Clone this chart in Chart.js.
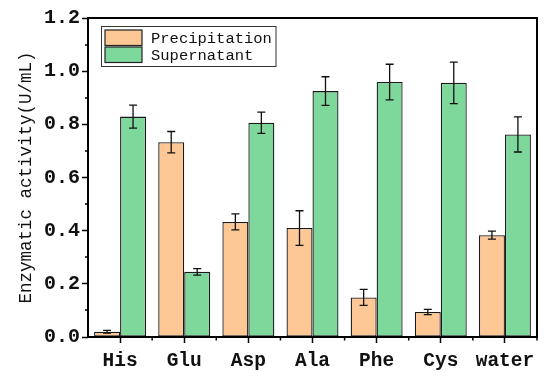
<!DOCTYPE html>
<html>
<head>
<meta charset="utf-8">
<script src="https://cdn.jsdelivr.net/npm/chart.js@4/dist/chart.umd.min.js"></script>
<style>
html,body{margin:0;padding:0;background:#fff;}
#wrap{width:550px;height:381px;}
</style>
</head>
<body>
<div id="wrap"><canvas id="c" width="550" height="381"></canvas></div>
<script>
const categories = ['His','Glu','Asp','Ala','Phe','Cys','water'];
const precipitation = [0.020,0.733,0.433,0.410,0.149,0.094,0.383];
const precipitationErr = [0.005,0.040,0.030,0.065,0.030,0.010,0.015];
const supernatant = [0.829,0.245,0.806,0.925,0.959,0.956,0.762];
const supernatantErr = [0.043,0.012,0.040,0.054,0.067,0.078,0.066];
const seriesLabels = ['Precipitation','Supernatant'];
const yTitle = 'Enzymatic activity(U/mL)';

const FONT = '"Liberation Mono", "DejaVu Sans Mono", monospace';
const ORANGE = '#FDC896';
const GREEN = '#7ED89C';

const errorBars = {
  id:'errorBars',
  afterDatasetsDraw(chart){
    const ctx = chart.ctx, y = chart.scales.y;
    const errs = [precipitationErr, supernatantErr];
    ctx.save();
    ctx.strokeStyle = '#111';
    ctx.lineWidth = 1.3;
    chart.data.datasets.forEach((ds,di)=>{
      const meta = chart.getDatasetMeta(di);
      meta.data.forEach((el,i)=>{
        const v = ds.data[i], e = errs[di][i];
        const yt = y.getPixelForValue(v+e), yb = y.getPixelForValue(v-e);
        const x = el.x, cw = 4;
        ctx.beginPath();
        ctx.moveTo(x,yt); ctx.lineTo(x,yb);
        ctx.moveTo(x-cw,yt); ctx.lineTo(x+cw,yt);
        ctx.moveTo(x-cw,yb); ctx.lineTo(x+cw,yb);
        ctx.stroke();
      });
    });
    ctx.restore();
  }
};

const frame = {
  id:'frame',
  afterDraw(chart){
    const ctx = chart.ctx, a = chart.chartArea, xs = chart.scales.x, ys = chart.scales.y;
    ctx.save();
    ctx.strokeStyle = '#000';
    ctx.lineWidth = 2;
    ctx.strokeRect(a.left, a.top, a.right-a.left, a.bottom-a.top);
    ctx.lineWidth = 1.5;
    ctx.beginPath();
    for (let v=0.1; v<1.2; v+=0.2){
      const py = Math.round(ys.getPixelForValue(v));
      ctx.moveTo(a.left-3, py); ctx.lineTo(a.left, py);
    }
    for (let i=0;i<categories.length-1;i++){
      const px = (xs.getPixelForValue(i)+xs.getPixelForValue(i+1))/2;
      ctx.moveTo(px, a.bottom); ctx.lineTo(px, a.bottom+3.5);
    }
    ctx.moveTo(a.right, a.bottom); ctx.lineTo(a.right, a.bottom+3.5);
    ctx.stroke();
    const bx = 101.5, by = 26.5, bw = 174.5, bh = 40;
    ctx.lineWidth = 1;
    ctx.strokeStyle = '#333';
    ctx.fillStyle = '#fff';
    ctx.fillRect(bx,by,bw,bh);
    ctx.strokeRect(bx,by,bw,bh);
    const cols = [ORANGE, GREEN];
    ctx.font = '15.5px ' + FONT;
    ctx.textBaseline = 'middle';
    seriesLabels.forEach((lab,i)=>{
      const ry = 30 + i*17;
      ctx.fillStyle = cols[i];
      ctx.fillRect(105, ry, 37, 15.5);
      ctx.strokeStyle = '#222';
      ctx.lineWidth = 1.2;
      ctx.strokeRect(105, ry, 37, 15.5);
      ctx.fillStyle = '#111';
      ctx.fillText(lab, 151, ry+8.5);
    });
    ctx.restore();
  }
};

new Chart(document.getElementById('c'), {
  type:'bar',
  data:{
    labels: categories,
    datasets:[
      {label:seriesLabels[0], data:precipitation, backgroundColor:ORANGE, borderColor:'#1a1a1a', borderWidth:1.3, borderSkipped:false},
      {label:seriesLabels[1], data:supernatant, backgroundColor:GREEN, borderColor:'#1a1a1a', borderWidth:1.3, borderSkipped:false}
    ]
  },
  options:{
    responsive:false,
    animation:false,
    events:[],
    layout:{padding:{left:0,right:13,top:18,bottom:0}},
    datasets:{bar:{categoryPercentage:0.81, barPercentage:1.0}},
    plugins:{legend:{display:false}, tooltip:{enabled:false}},
    scales:{
      x:{
        offset:true,
        grid:{display:true, drawOnChartArea:false, tickLength:6, tickColor:'#000', tickWidth:1.5, offset:false},
        border:{display:false},
        ticks:{color:'#111', font:{family:FONT, size:19.5, weight:'bold'}, padding:6, maxRotation:0, autoSkip:false},
        afterFit(s){ s.height = 44; }
      },
      y:{
        min:0, max:1.2,
        grid:{display:true, drawOnChartArea:false, tickLength:6, tickColor:'#000', tickWidth:1.5},
        border:{display:false},
        ticks:{stepSize:0.2, color:'#111', font:{family:FONT, size:20, weight:'bold'}, padding:2,
          callback:(v)=>Number(v).toFixed(1)},
        title:{display:true, text:yTitle, color:'#111', font:{family:FONT, size:17.5}, padding:{top:16,bottom:0}},
        afterFit(s){ s.width = 88; }
      }
    }
  },
  plugins:[errorBars, frame]
});
</script>
</body>
</html>
